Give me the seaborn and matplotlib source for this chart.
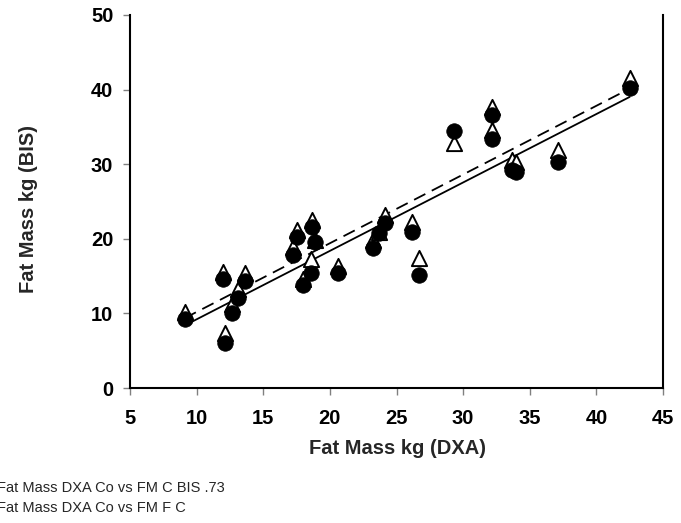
import numpy as np
import pandas as pd
import matplotlib
matplotlib.use("Agg")
import matplotlib.pyplot as plt
import seaborn as sns

# Data
fm_dxa = [9.1, 12.0, 12.1, 12.65, 13.1, 13.6, 17.2, 17.5, 18.0, 18.6, 18.65, 18.9,
          20.6, 23.2, 23.7, 24.1, 26.15, 26.7, 29.3, 32.2, 32.2, 33.7, 34.0, 37.1, 42.5]
fm_c_bis = [9.2, 14.6, 6.0, 10.0, 12.1, 14.3, 17.8, 20.2, 13.8, 15.4, 21.6, 19.6,
            15.4, 18.8, 20.8, 22.1, 20.9, 15.1, 34.4, 36.6, 33.4, 29.2, 29.0, 30.3, 40.2]
fm_f_c = [10.2, 15.5, 7.4, 11.2, 13.3, 15.4, 18.9, 21.2, 14.6, 17.3, 22.5, 19.8,
          16.4, 19.8, 20.9, 23.2, 22.2, 17.4, 32.8, 37.7, 34.6, 30.6, 30.3, 31.9, 41.6]

x_ticks = [5, 10, 15, 20, 25, 30, 35, 40, 45]
y_ticks = [0, 10, 20, 30, 40, 50]
legend_labels = ["Fat Mass DXA Co vs FM C BIS .73", "Fat Mass DXA Co vs FM F C"]

df = pd.DataFrame({"dxa": fm_dxa, "bis": fm_c_bis, "fc": fm_f_c})

sns.set_style("white")
plt.rcParams["font.family"] = ["Liberation Sans", "DejaVu Sans"]

fig = plt.figure(figsize=(6.81, 5.23), dpi=100)
ax = fig.add_axes([130 / 681, 1 - 388 / 523, 533 / 681, 373 / 523])

# regression lines
sns.regplot(data=df, x="dxa", y="bis", scatter=False, ci=None, ax=ax,
            line_kws=dict(color="black", lw=1.3, zorder=2))
sns.regplot(data=df, x="dxa", y="fc", scatter=False, ci=None, ax=ax,
            line_kws=dict(color="black", lw=1.3, ls=(0, (7, 4)), zorder=2))

# markers
sns.scatterplot(data=df, x="dxa", y="fc", marker="^", s=120, facecolor="white",
                edgecolor="black", linewidth=1.4, ax=ax, zorder=3)
sns.scatterplot(data=df, x="dxa", y="bis", marker="o", s=125, color="black",
                edgecolor="black", linewidth=0.5, ax=ax, zorder=4)

ax.set_xlim(5, 45)
ax.set_ylim(0, 50)
ax.set_xticks(x_ticks)
ax.set_yticks(y_ticks)
ax.set_xticklabels([str(t) for t in x_ticks], fontsize=14.5, fontweight="bold")
ax.set_yticklabels([str(t) for t in y_ticks], fontsize=14.5, fontweight="bold")
ax.tick_params(axis="both", direction="out", length=5, width=1, color="#808080",
               labelcolor="black", bottom=True, left=True)
ax.tick_params(axis="x", pad=10)
ax.tick_params(axis="y", pad=7)
ax.set_xlabel("Fat Mass kg (DXA)", fontsize=14.5, fontweight="bold")
ax.set_ylabel("Fat Mass kg (BIS)", fontsize=14.5, fontweight="bold")
ax.xaxis.set_label_coords(0.501, -0.138)
ax.yaxis.set_label_coords(-0.172, 0.48)

for side in ["left", "bottom", "right"]:
    ax.spines[side].set_visible(True)
    ax.spines[side].set_color("black")
    ax.spines[side].set_linewidth(1.5)
ax.spines["top"].set_visible(False)

# legend text, cropped at the left edge as in the reference
fig.text(-3 / 681, 1 - 488 / 523, legend_labels[0], fontsize=10.5, va="center", ha="left")
fig.text(-3 / 681, 1 - 508 / 523, legend_labels[1], fontsize=10.5, va="center", ha="left")

fig.savefig("out.png", dpi=100)
